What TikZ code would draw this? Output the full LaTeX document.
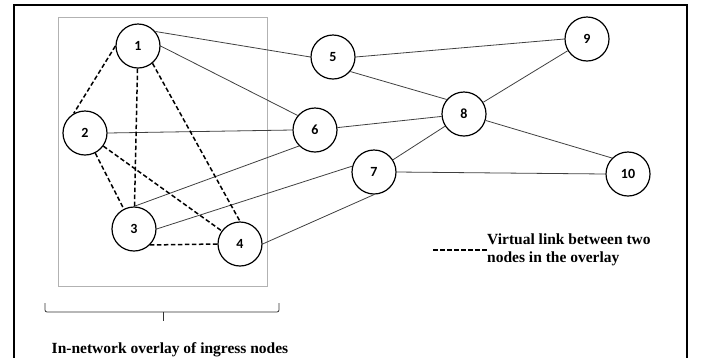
\documentclass[tikz,border=0pt]{standalone}
\usepackage{fontspec}
\setmainfont{Liberation Serif}
\newfontfamily\numfont{Carlito}
\begin{document}
\begin{tikzpicture}[x=1pt, y=-1pt,
		peer/.style={draw, circle, line width=1.2pt, fill=white, inner sep=0pt,
			minimum size=44pt},
		num/.style={font=\numfont\bfseries\fontsize{14}{16}\selectfont},
		link/.style={draw=black!75, line width=0.8pt},
		vlink/.style={draw=black, line width=1.5pt, dash pattern=on 4.5pt off 2.5pt},
		note/.style={font=\bfseries\fontsize{15.5}{18}\selectfont, inner sep=0pt}]
	\useasboundingbox (0,0) rectangle (707,357);
	% outer frame and overlay box
	\draw[line width=2pt] (14,358) -- (14,5) -- (687,5) -- (687,358);
	\draw[black!30, line width=0.8pt] (58,17) rectangle (267,286);
	% node labels
	\def\labels {1,2,3,4,5,6,7,8,9,10};
	% node xy coordinates
	\def\pos { (138, 46)
			 , (85 , 133)
			 , (134, 229)
			 , (240, 244)
			 , (333, 57)
			 , (315, 130)
			 , (374, 172)
			 , (464, 114)
			 , (587, 39)
			 , (628, 174)
			 };
	% draw nodes and labels
	\foreach \coords [count=\index] in \pos
	{
		\node[peer] (v_\index) at \coords {\phantom{0}};
	}
	\foreach \label [count=\index] in \labels
	{
		\node[num] () at (v_\index) {\label};
	}
	% physical links
	\draw[link] (v_1.40) -- (v_5.west);
	\draw[link] (v_5.east) -- (v_9.west);
	\draw[link] (v_1.east) -- (v_6.140);
	\draw[link] (v_5.-40) -- (v_8.140);
	\draw[link] (v_2.east) -- (v_6.west);
	\draw[link] (v_6) -- (v_8);
	\draw[link] (v_6.225) -- (v_3.north);
	\draw[link] (v_3.east) -- (v_7.165);
	\draw[link] (v_4.east) -- (v_7.south);
	\draw[link] (v_7) -- (v_8);
	\draw[link] (v_8) -- (v_9);
	\draw[link] (v_8) -- (v_10.135);
	\draw[link] (v_7.east) -- (v_10.west);
	% virtual links of the overlay
	\draw[vlink] (v_1.west) -- (v_2.120);
	\draw[vlink] (v_1) -- (v_3);
	\draw[vlink] (v_1.-50) -- (v_4.north);
	\draw[vlink] (v_2) -- (v_3);
	\draw[vlink] (v_2) -- (v_4);
	\draw[vlink] (v_3.south east) -- (v_4.west);
	% legend
	\node[note, anchor=west, align=left] (legend) at (487,250)
		{Virtual link between two\\nodes in the overlay};
	\coordinate (legend_start) at (433,250);
	\draw[vlink] (legend_start) -- (legend.west);
	% bracket under the overlay
	\draw[black!80, line width=0.8pt, rounded corners=2pt]
		(45,303) -- (45,312) -- (279,312) -- (279,303);
	\draw[black!80, line width=0.8pt] (163,312) -- (163,321);
	\node[note, anchor=base] (caption) at (170,353) {In-network overlay of ingress nodes};
\end{tikzpicture}
\end{document}
